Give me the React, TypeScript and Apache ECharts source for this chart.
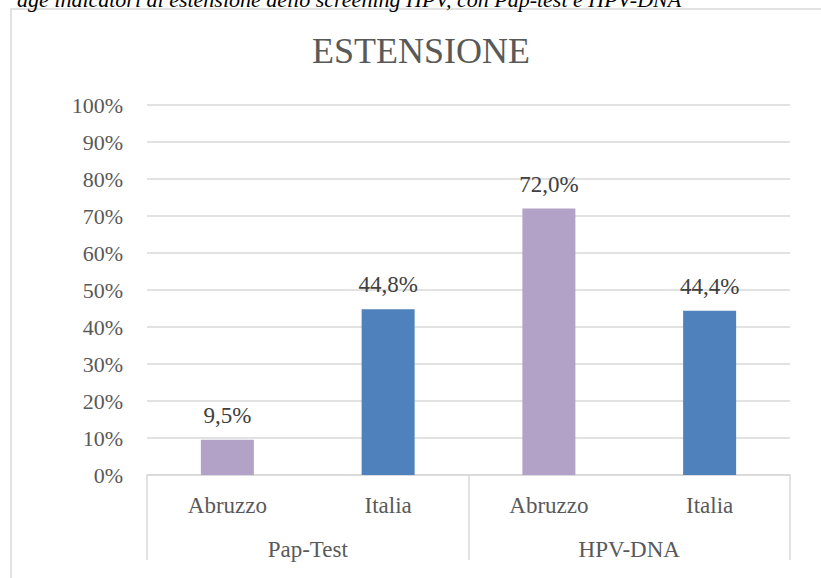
import React, { useEffect, useRef } from "react";
import * as echarts from "echarts";

const categories = ["Abruzzo", "Italia", "Abruzzo", "Italia"];
const groups = ["Pap-Test", "HPV-DNA"];
const values = [9.5, 44.8, 72.0, 44.4];
const barColors = ["#B3A2C7", "#4F81BD", "#B3A2C7", "#4F81BD"];
const title = "ESTENSIONE";
const captionText = "age indicatori di estensione dello screening HPV, con Pap-test e HPV-DNA";

const FONT = "Liberation Serif";

export default function App() {
  const ref = useRef<HTMLDivElement>(null);
  useEffect(() => {
    if (!ref.current) return;
    const chart = echarts.init(ref.current, undefined, { renderer: "svg" });
    chart.setOption({
      animation: false,
      backgroundColor: "#ffffff",
      textStyle: { fontFamily: FONT },
      title: {
        text: title,
        left: 307,
        top: 28,
        textStyle: { fontFamily: FONT, fontSize: 36, fontWeight: "normal", color: "#595959" },
      },
      graphic: [
        {
          type: "rect",
          shape: { x: 11, y: 9, width: 900, height: 700 },
          style: { fill: "none", stroke: "#d9d9d9", lineWidth: 1.5 },
          silent: true,
        },
        {
          type: "text",
          x: 17,
          y: 10,
          style: {
            text: captionText,
            fontFamily: FONT,
            fontStyle: "italic",
            fontSize: 22,
            fill: "#000000",
            verticalAlign: "bottom",
          },
          silent: true,
        },
      ],
      grid: { left: 147, right: 31, top: 105, bottom: 103, containLabel: false },
      xAxis: [
        {
          type: "category",
          data: categories,
          position: "bottom",
          axisLine: { show: true, lineStyle: { color: "#d9d9d9", width: 1.5 } },
          axisTick: { show: false },
          axisLabel: { margin: 19, fontFamily: FONT, fontSize: 23, color: "#595959", interval: 0 },
        },
        {
          type: "category",
          data: groups,
          position: "bottom",
          axisLine: { show: false },
          axisTick: { show: true, length: 85, lineStyle: { color: "#d9d9d9", width: 1.5 } },
          axisLabel: { margin: 63, fontFamily: FONT, fontSize: 23, color: "#595959", interval: 0 },
        },
      ],
      yAxis: {
        type: "value",
        min: 0,
        max: 100,
        interval: 10,
        axisLine: { show: false },
        axisTick: { show: false },
        splitLine: { lineStyle: { color: "#d9d9d9", width: 1.5 } },
        axisLabel: {
          formatter: "{value}%",
          margin: 24,
          fontFamily: FONT,
          fontSize: 22,
          color: "#595959",
        },
      },
      series: [
        {
          type: "bar",
          xAxisIndex: 0,
          barWidth: 53,
          data: values.map((v, i) => ({ value: v, itemStyle: { color: barColors[i] } })),
          label: {
            show: true,
            position: "top",
            distance: 13,
            fontFamily: FONT,
            fontSize: 23,
            color: "#404040",
            formatter: (p: any) => p.value.toFixed(1).replace(".", ",") + "%",
          },
        },
      ],
    });
    return () => chart.dispose();
  }, []);
  return (
    <div
      ref={ref}
      style={{ position: "fixed", left: 0, top: 0, width: 821, height: 578 }}
    />
  );
}
